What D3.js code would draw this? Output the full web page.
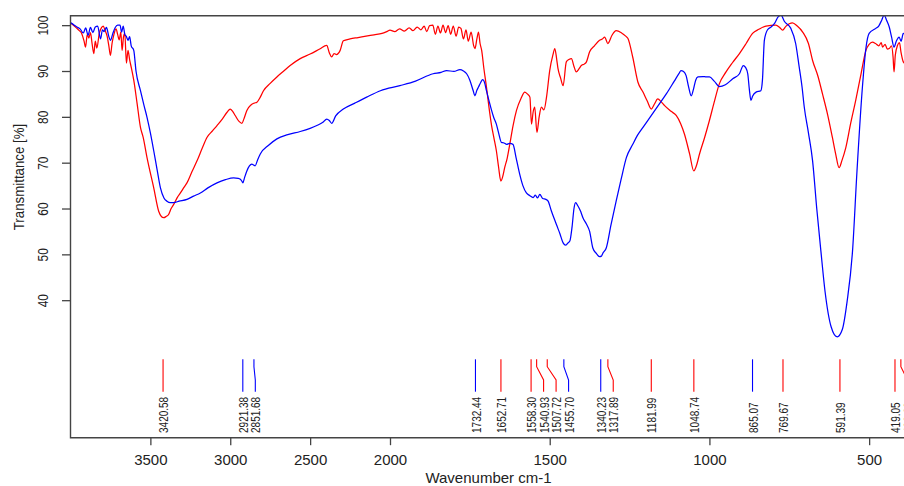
<!DOCTYPE html>
<html>
<head>
<meta charset="utf-8">
<script src="https://cdn.jsdelivr.net/npm/d3@7"></script>
<style>
  html, body { margin: 0; padding: 0; background: #fff; }
  svg { display: block; font-family: "Liberation Sans", Arial, sans-serif; }
</style>
</head>
<body>
<svg id="chart" width="904" height="486"></svg>
<script>
// ---------------- DATA ----------------
const redWavenumber = [3998,3980,3960,3945,3930,3915,3906,3895,3885,3875,3865,3854,3845,3835,3820,3805,3795,3785,3770,3760,3750,3740,3728,3715,3705,3695,3685,3677,3668,3660,3650,3640,3630,3618,3604,3583,3562,3545,3521,3479,3448,3430,3417,3400,3386,3370,3354,3330,3312,3290,3271,3240,3208,3175,3146,3110,3083,3050,3020,3000,2985,2969,2945,2927,2915,2896,2870,2850,2833,2812,2792,2750,2708,2665,2625,2562,2500,2440,2396,2380,2365,2350,2335,2312,2292,2250,2200,2150,2100,2050,2020,2000,1985,1970,1955,1940,1928,1915,1903,1893,1885,1876,1866,1858,1850,1842,1834,1826,1818,1810,1802,1793,1785,1778,1770,1762,1755,1746,1738,1734,1728,1723,1718,1713,1706,1698,1690,1682,1675,1667,1660,1653,1647,1641,1633,1625,1615,1604,1590,1578,1570,1562,1557,1552,1547,1540,1533,1526,1518,1510,1500,1490,1484,1478,1474,1466,1458,1448,1440,1432,1424,1417,1408,1401,1392,1385,1375,1360,1344,1335,1328,1318,1305,1292,1275,1262,1255,1240,1224,1208,1195,1182,1172,1162,1150,1141,1120,1104,1090,1078,1062,1049,1040,1031,1015,1000,985,969,948,928,906,885,865,845,823,792,780,771,760,750,740,725,708,690,677,660,646,630,615,605,594,585,573,558,542,525,510,500,490,480,470,462,458,450,443,437,430,425,422,418,411,405,400,393,385];
const redTransmittance = [100.4,99.9,99.3,98.8,98.2,96.5,95.2,98.0,97.2,98.4,96.0,93.8,96.5,95.0,98.2,99.5,99.8,99.0,97.5,95.5,93.4,96.0,98.0,99.2,98.0,96.8,98.5,94.5,97.5,98.2,91.7,94.5,92.5,90.5,88.0,82.9,77.7,75.5,71.1,64.5,59.4,58.2,58.0,58.3,58.7,60.0,60.9,62.5,63.4,64.6,65.6,68.0,70.4,73.2,75.5,77.0,78.1,79.5,81.0,81.7,81.2,80.3,79.0,78.6,79.5,81.4,82.6,83.0,83.2,84.3,85.7,87.3,88.7,90.0,91.2,92.7,93.7,94.8,95.6,94.0,93.1,93.8,93.6,94.5,96.6,97.0,97.3,97.6,97.9,98.2,98.6,98.9,98.6,99.2,98.7,99.4,98.8,99.6,99.0,99.8,98.6,99.9,100.0,98.0,99.8,98.3,100.0,98.4,99.9,98.0,99.8,97.6,99.6,99.3,97.0,99.0,96.5,98.5,95.5,94.9,97.0,98.5,96.0,94.5,90.5,86.5,82.0,78.1,75.5,72.6,69.0,66.0,67.0,68.9,71.0,74.0,78.0,81.4,84.0,85.4,85.0,84.3,78.4,81.0,82.1,76.6,80.0,82.1,81.5,84.3,90.1,93.5,94.9,92.5,90.5,88.5,86.8,92.0,92.5,92.7,91.0,89.8,90.5,91.2,91.5,92.0,94.2,95.5,96.7,97.0,97.4,96.0,97.8,98.8,98.3,97.6,97.1,93.0,87.6,85.4,83.5,81.7,82.8,83.9,83.2,82.5,81.2,80.3,78.5,76.2,71.9,68.2,69.5,71.9,75.5,79.2,83.2,87.2,89.8,91.8,93.8,96.0,98.2,99.1,99.8,100.0,99.5,98.9,99.8,100.3,100.5,99.8,98.5,96.0,92.3,88.8,85.0,80.5,75.5,72.0,68.9,70.5,73.3,78.5,83.6,89.5,94.5,95.8,96.3,96.0,95.5,96.2,95.2,95.8,94.8,94.9,95.5,93.0,89.8,93.5,95.6,96.2,94.0,92.0,91.5];

const blueWavenumber = [3998,3980,3960,3940,3920,3905,3890,3875,3860,3845,3830,3812,3800,3790,3775,3760,3750,3735,3720,3705,3690,3680,3670,3660,3650,3640,3630,3620,3604,3590,3562,3540,3521,3500,3479,3458,3437,3415,3396,3375,3354,3320,3271,3230,3187,3140,3083,3030,2979,2950,2937,2928,2921,2910,2896,2880,2865,2855,2844,2830,2812,2760,2708,2640,2562,2500,2458,2420,2396,2380,2365,2340,2292,2220,2146,2060,1969,1920,1865,1840,1823,1800,1781,1770,1760,1750,1740,1734,1728,1723,1716,1710,1704,1698,1690,1682,1675,1667,1660,1651,1643,1635,1625,1615,1605,1594,1584,1573,1562,1552,1545,1538,1531,1522,1512,1505,1495,1487,1479,1468,1458,1450,1444,1437,1430,1424,1419,1412,1404,1396,1385,1375,1365,1354,1344,1338,1334,1323,1308,1292,1276,1260,1240,1225,1208,1185,1160,1135,1110,1095,1089,1081,1073,1065,1057,1050,1043,1036,1020,1010,1000,985,969,950,927,906,894,887,880,875,870,865,854,839,834,828,818,807,795,785,776,765,745,730,719,710,703,690,677,664,651,638,619,600,584,569,552,538,521,510,500,479,470,460,453,445,437,430,422,415,406,400,393,385];
const blueTransmittance = [100.5,100.1,99.6,99.2,98.3,99.4,97.8,99.5,98.4,99.6,99.8,97.0,99.0,98.6,99.5,97.5,96.7,98.2,99.5,100.0,100.0,98.5,99.8,98.0,97.5,96.7,97.5,95.5,94.5,90.0,85.7,82.5,79.9,76.5,72.6,68.5,64.5,62.3,61.6,61.3,61.3,61.6,62.0,62.7,63.4,64.5,65.6,66.3,66.7,66.6,66.4,66.0,65.6,66.8,68.2,69.3,69.7,69.5,69.3,70.5,71.9,73.8,75.2,76.1,76.8,77.5,78.1,78.8,79.5,79.2,78.6,80.2,81.7,83.0,84.3,85.7,86.8,87.8,89.4,89.7,90.1,89.9,90.3,90.0,89.4,88.0,85.8,84.6,85.8,86.5,87.5,88.1,87.5,85.7,83.5,81.4,79.8,78.4,76.5,74.4,74.3,74.0,74.2,74.0,71.0,67.5,65.0,63.4,62.8,62.4,62.9,62.3,63.1,62.2,62.0,61.6,59.5,58.0,56.5,54.5,52.5,52.0,52.4,52.9,56.0,60.0,61.3,60.6,59.5,58.0,56.6,55.0,51.4,50.2,49.5,49.6,50.2,51.4,56.5,61.6,66.5,71.1,74.0,76.0,77.7,80.0,82.5,85.0,87.8,89.5,90.1,89.9,89.0,86.5,84.6,86.0,88.0,88.7,88.8,88.7,88.7,87.8,86.6,87.0,88.3,89.4,91.2,90.8,89.4,86.0,83.6,84.5,85.4,85.7,88.0,96.7,99.0,99.6,100.5,101.8,102.2,100.8,99.3,96.0,90.9,86.5,82.1,76.5,70.4,60.0,50.7,41.9,34.2,32.0,33.6,39.7,50.7,68.2,86.5,95.0,98.2,99.3,99.8,101.2,102.2,101.0,99.6,97.5,95.2,96.5,97.4,96.5,98.2,97.8];

const peakWavenumbers = [3420.58,2921.38,2851.68,1732.44,1652.71,1558.30,1540.93,1507.72,1455.70,1340.23,1317.89,1181.99,1048.74,865.07,769.67,591.39,419.05,400.62];
const peakSeries = ["red","blue","blue","blue","red","red","red","red","blue","blue","red","red","red","blue","red","red","red","red"];

const xTickValues = [3500,3000,2500,2000,1500,1000,500];
const yTickValues = [40,50,60,70,80,90,100];
const xTitle = "Wavenumber cm-1";
const yTitle = "Transmittance [%]";

// ---------------- LAYOUT ----------------
const colors = { red: "#ff0000", blue: "#0000ff" };
const svg = d3.select("#chart");
const plotLeft = 70.5, plotTop = 15.7, plotBottom = 437.7, plotRight = 906.5;

// wavenumber axis compressed above 2000 cm-1
const x = d3.scaleLinear().domain([4000, 2000, 383]).range([plotLeft, 390, plotRight]);
const y = d3.scaleLinear().domain([10, 102]).range([plotBottom, 16]);

svg.append("defs").append("clipPath").attr("id", "plotclip")
  .append("rect").attr("x", plotLeft).attr("y", plotTop)
  .attr("width", plotRight - plotLeft).attr("height", plotBottom - plotTop);

// series
const line = d3.line().x(d => x(d[0])).y(d => y(d[1])).curve(d3.curveMonotoneX);
const series = [
  { key: "red", pts: redWavenumber.map((w, i) => [w, redTransmittance[i]]) },
  { key: "blue", pts: blueWavenumber.map((w, i) => [w, blueTransmittance[i]]) }
];
svg.append("g").attr("clip-path", "url(#plotclip)")
  .selectAll("path").data(series).join("path")
  .attr("d", d => line(d.pts))
  .attr("fill", "none")
  .attr("stroke", d => colors[d.key])
  .attr("stroke-width", 1.25)
  .attr("stroke-linejoin", "round");

// frame
const frame = svg.append("g").attr("stroke", "#444").attr("stroke-width", 1.4).attr("fill", "none");
frame.append("path").attr("d", `M${plotRight + 4},${plotTop} H${plotLeft} V${plotBottom} H${plotRight + 4}`);

// x axis
const gx = svg.append("g").attr("transform", `translate(0,${plotBottom})`)
  .call(d3.axisBottom(x).tickValues(xTickValues).tickSize(7.5).tickSizeOuter(0).tickFormat(d3.format("d")));
gx.select(".domain").remove();
gx.selectAll(".tick line").attr("stroke", "#444").attr("stroke-width", 1.3);
gx.selectAll(".tick text")
  .attr("y", 21.5).attr("dy", null)
  .attr("dominant-baseline", "central")
  .attr("font-size", 15).attr("font-family", "Liberation Sans, Arial, sans-serif")
  .attr("fill", "#222");

// y axis
const gy = svg.append("g").attr("transform", `translate(${plotLeft},0)`)
  .call(d3.axisLeft(y).tickValues(yTickValues).tickSize(8.5).tickSizeOuter(0).tickFormat(d3.format("d")));
gy.select(".domain").remove();
gy.selectAll(".tick line").attr("stroke", "#444").attr("stroke-width", 1.3);
gy.selectAll(".tick text")
  .attr("x", null).attr("dy", null)
  .attr("text-anchor", "middle")
  .attr("dominant-baseline", "central")
  .attr("transform", "translate(-27,0) rotate(-90) scale(0.85,1)")
  .attr("font-size", 14).attr("font-family", "Liberation Sans, Arial, sans-serif")
  .attr("fill", "#222");

// titles
svg.append("text").attr("x", (plotLeft + plotRight) / 2).attr("y", 477)
  .attr("text-anchor", "middle").attr("dominant-baseline", "central")
  .attr("font-size", 15).attr("fill", "#222").text(xTitle);
svg.append("text").attr("transform", "translate(19,177) rotate(-90) scale(0.95,1)")
  .attr("text-anchor", "middle").attr("dominant-baseline", "central")
  .attr("font-size", 14).attr("fill", "#222").text(yTitle);

// peak markers with simple label de-overlap
const peaks = peakWavenumbers.map((w, i) => ({ w, s: peakSeries[i], lx: x(w) }))
  .sort((a, b) => a.lx - b.lx);
let prev = -Infinity;
peaks.forEach(p => { p.labelX = Math.max(p.lx, prev + 12.5); prev = p.labelX; });

const gp = svg.append("g");
gp.selectAll("path").data(peaks).join("path")
  .attr("d", p => Math.abs(p.labelX - p.lx) < 0.01
    ? `M${p.lx},359.3 V391.7`
    : `M${p.lx},359.3 V366.7 L${p.labelX},380 V391.7`)
  .attr("fill", "none").attr("stroke", p => colors[p.s]).attr("stroke-width", 1.1);
gp.selectAll("text").data(peaks).join("text")
  .attr("transform", p => `translate(${p.labelX},433) rotate(-90) scale(0.77,1)`)
  .attr("text-anchor", "start").attr("dominant-baseline", "central")
  .attr("font-size", 13).attr("fill", "#222")
  .text(p => p.w.toFixed(2));
</script>
</body>
</html>
